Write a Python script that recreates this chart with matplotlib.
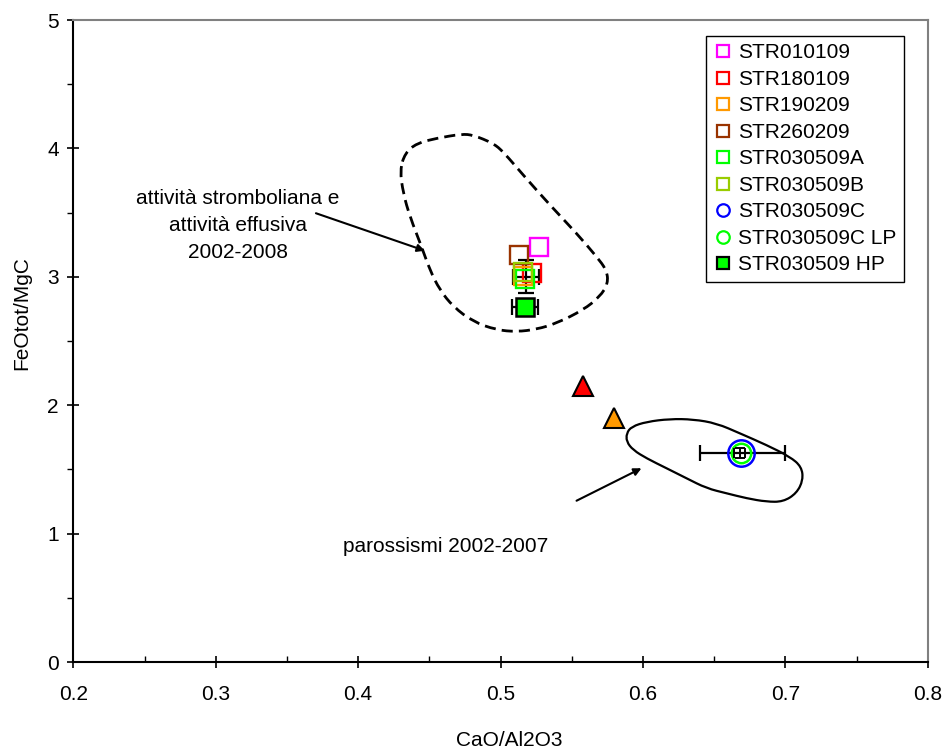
import matplotlib
matplotlib.use("Agg")
import matplotlib.pyplot as plt
from matplotlib.path import Path
from matplotlib.patches import PathPatch
from matplotlib.lines import Line2D
from matplotlib.ticker import MultipleLocator
import numpy as np

plt.rcParams['font.family'] = ['Liberation Sans', 'DejaVu Sans']

# ---------------- data ----------------
sq_names = ["STR010109", "STR180109", "STR190209", "STR260209", "STR030509A", "STR030509B"]
sq_colors = ["#FF00FF", "#FF0000", "#FF9900", "#993300", "#00FF00", "#99CC00"]
sq_x = [0.527, 0.522, 0.516, 0.513, 0.5175, 0.5156]
sq_y = [3.232, 3.028, 3.01, 3.170, 2.984, 3.037]

circ_names = ["STR030509C", "STR030509C LP"]
circ_colors = ["#0000FF", "#00FF00"]
circ_x = [0.6686, 0.6686]
circ_y = [1.625, 1.625]
circ_sizes = [19, 14]

hp_name = "STR030509 HP"
hp_x = [0.5173]
hp_y = [2.763]
hp_xerr = [0.009]

# error bars in the clusters
eb1_x, eb1_y, eb1_xerr, eb1_yerr = 0.518, 3.0, 0.009, 0.13
eb2_x, eb2_y, eb2_xerr = 0.670, 1.625, 0.030
eb3_x, eb3_y, eb3_xerr, eb3_yerr = 0.668, 1.628, 0.004, 0.04

# triangles (not in legend)
tri_x = [0.558, 0.5794]
tri_y = [2.150, 1.900]
tri_colors = ["#FF0000", "#FF9900"]

# field contours
strom_x = [0.4329, 0.4411, 0.4551, 0.4727, 0.4808, 0.4949, 0.5019, 0.5159, 0.5347,
           0.5534, 0.5675, 0.5745, 0.5756, 0.5698, 0.5580, 0.5394, 0.5253, 0.5113,
           0.4972, 0.4808, 0.4668, 0.4574, 0.4504, 0.4446, 0.4364, 0.4317, 0.4294]
strom_y = [3.962, 4.040, 4.079, 4.112, 4.104, 4.040, 3.974, 3.793, 3.559,
           3.339, 3.157, 3.053, 2.949, 2.845, 2.741, 2.638, 2.591, 2.572,
           2.586, 2.650, 2.767, 2.897, 3.053, 3.234, 3.468, 3.650, 3.832]

paro_x = [0.5885, 0.5920, 0.6026, 0.6189, 0.6353, 0.6517, 0.6681, 0.6868, 0.7032,
          0.7114, 0.7125, 0.7079, 0.6985, 0.6868, 0.6728, 0.6587, 0.6447, 0.6306,
          0.6166, 0.6026, 0.5931, 0.5885]
paro_y = [1.781, 1.833, 1.871, 1.893, 1.890, 1.859, 1.781, 1.690, 1.599,
          1.521, 1.417, 1.314, 1.248, 1.248, 1.275, 1.314, 1.353, 1.431,
          1.509, 1.586, 1.651, 1.716]

# annotations
label_strom = "attività stromboliana e\nattività effusiva\n2002-2008"
label_strom_pos = (0.3156, 3.40)
arrow1 = ((0.3704, 3.495), (0.4469, 3.203))
label_paro = "parossismi 2002-2007"
label_paro_pos = (0.4615, 0.898)
arrow2 = ((0.5534, 1.256), (0.5990, 1.509))

x_ticks = [0.2, 0.3, 0.4, 0.5, 0.6, 0.7, 0.8]
y_ticks = [0, 1, 2, 3, 4, 5]


def smooth_closed_path(xs, ys):
    pts = np.column_stack([xs, ys])
    n = len(pts)
    mids = (pts + np.roll(pts, -1, axis=0)) / 2.0
    verts = [mids[-1]]
    codes = [Path.MOVETO]
    for i in range(n):
        verts.append(pts[i]); codes.append(Path.CURVE3)
        verts.append(mids[i]); codes.append(Path.CURVE3)
    return Path(verts, codes)


fig = plt.figure(figsize=(9.46, 7.51), dpi=100)
ax = fig.add_axes([73.3 / 946, 1 - 662 / 751, (927.7 - 73.3) / 946, 642 / 751])
ax.set_xlim(0.2, 0.8)
ax.set_ylim(0, 5)

FS = 15

# contours
ax.add_patch(PathPatch(smooth_closed_path(strom_x, strom_y), facecolor='none',
                       edgecolor='black', lw=2.0, linestyle=(0, (4, 2.2)), zorder=2))
ax.add_patch(PathPatch(smooth_closed_path(paro_x, paro_y), facecolor='none',
                       edgecolor='black', lw=1.6, zorder=2))

# error bars
ax.errorbar([eb1_x], [eb1_y], xerr=[eb1_xerr], yerr=[eb1_yerr], fmt='none',
            ecolor='black', elinewidth=1.6, capsize=5.5, capthick=1.6, zorder=3)
ax.errorbar([eb2_x], [eb2_y], xerr=[eb2_xerr], fmt='none',
            ecolor='black', elinewidth=1.6, capsize=5.5, capthick=1.6, zorder=3)
ax.errorbar(hp_x, hp_y, xerr=hp_xerr, fmt='none',
            ecolor='black', elinewidth=1.6, capsize=5.5, capthick=1.6, zorder=3)

# squares
for x, y, c in zip(sq_x, sq_y, sq_colors):
    ax.plot([x], [y], linestyle='none', marker='s', markersize=13,
            markerfacecolor='none', markeredgecolor=c, markeredgewidth=1.7, zorder=4)

# HP filled square
ax.plot(hp_x, hp_y, linestyle='none', marker='s', markersize=13,
        markerfacecolor='#00FF00', markeredgecolor='black', markeredgewidth=1.8, zorder=5)

# circles
for x, y, c, s in zip(circ_x, circ_y, circ_colors, circ_sizes):
    ax.plot([x], [y], linestyle='none', marker='o', markersize=s,
            markerfacecolor='none', markeredgecolor=c, markeredgewidth=1.8, zorder=4)
ax.errorbar([eb3_x], [eb3_y], xerr=[eb3_xerr], yerr=[eb3_yerr], fmt='none',
            ecolor='black', elinewidth=1.4, capsize=3.5, capthick=1.4, zorder=5)

# triangles
for x, y, c in zip(tri_x, tri_y, tri_colors):
    ax.plot([x], [y], linestyle='none', marker='^', markersize=15,
            markerfacecolor=c, markeredgecolor='black', markeredgewidth=1.5, zorder=4)

# annotations
ax.text(label_strom_pos[0], label_strom_pos[1], label_strom, ha='center', va='center',
        fontsize=FS, linespacing=1.55)
ax.annotate('', xy=arrow1[1], xytext=arrow1[0],
            arrowprops=dict(arrowstyle='-|>', color='black', lw=1.5,
                            mutation_scale=11, shrinkA=0, shrinkB=0))
ax.text(label_paro_pos[0], label_paro_pos[1], label_paro, ha='center', va='center',
        fontsize=FS)
ax.annotate('', xy=arrow2[1], xytext=arrow2[0],
            arrowprops=dict(arrowstyle='-|>', color='black', lw=1.5,
                            mutation_scale=11, shrinkA=0, shrinkB=0))

# axes styling
ax.set_xticks(x_ticks)
ax.set_yticks(y_ticks)
ax.set_xticklabels([f"{v:g}" for v in x_ticks])
ax.set_yticklabels([f"{v:g}" for v in y_ticks])
ax.xaxis.set_minor_locator(MultipleLocator(0.05))
ax.yaxis.set_minor_locator(MultipleLocator(0.5))
ax.tick_params(axis='both', which='major', direction='inout', length=8.6, width=1.2,
               labelsize=FS, colors='black')
ax.tick_params(axis='x', which='major', pad=12)
ax.tick_params(axis='y', which='major', pad=6)
ax.tick_params(axis='x', which='minor', direction='in', length=4.3, width=1.0)
ax.tick_params(axis='y', which='minor', direction='out', length=4.3, width=1.0)
for s in ['left', 'bottom']:
    ax.spines[s].set_color('black')
    ax.spines[s].set_linewidth(1.5)
for s in ['top', 'right']:
    ax.spines[s].set_color('#808080')
    ax.spines[s].set_linewidth(1.5)

ax.set_xlabel("CaO/Al2O3", fontsize=FS)
ax.xaxis.set_label_coords(0.51, -0.1215)
ax.xaxis.label.set_va('center')
ax.set_ylabel("FeOtot/MgC", fontsize=FS)
ax.yaxis.set_label_coords(-0.060, 0.5436)
ax.yaxis.label.set_va('center')

# legend
handles = []
labels = []
for n, c in zip(sq_names, sq_colors):
    handles.append(Line2D([], [], linestyle='none', marker='s', markersize=8.5,
                          markerfacecolor='none', markeredgecolor=c, markeredgewidth=1.6))
    labels.append(n)
for n, c in zip(circ_names, circ_colors):
    handles.append(Line2D([], [], linestyle='none', marker='o', markersize=9,
                          markerfacecolor='none', markeredgecolor=c, markeredgewidth=1.6))
    labels.append(n)
handles.append(Line2D([], [], linestyle='none', marker='s', markersize=8.5,
                      markerfacecolor='#00FF00', markeredgecolor='black', markeredgewidth=1.6))
labels.append(hp_name)
leg = ax.legend(handles, labels, loc='upper left', bbox_to_anchor=(0.7405, 0.975),
                fontsize=FS, frameon=True, fancybox=False, edgecolor='black',
                framealpha=1, borderpad=0.35, labelspacing=0.36, handlelength=0.9,
                handletextpad=0.28, borderaxespad=0)
leg.get_frame().set_linewidth(1.0)

fig.savefig("out.png", dpi=100)
